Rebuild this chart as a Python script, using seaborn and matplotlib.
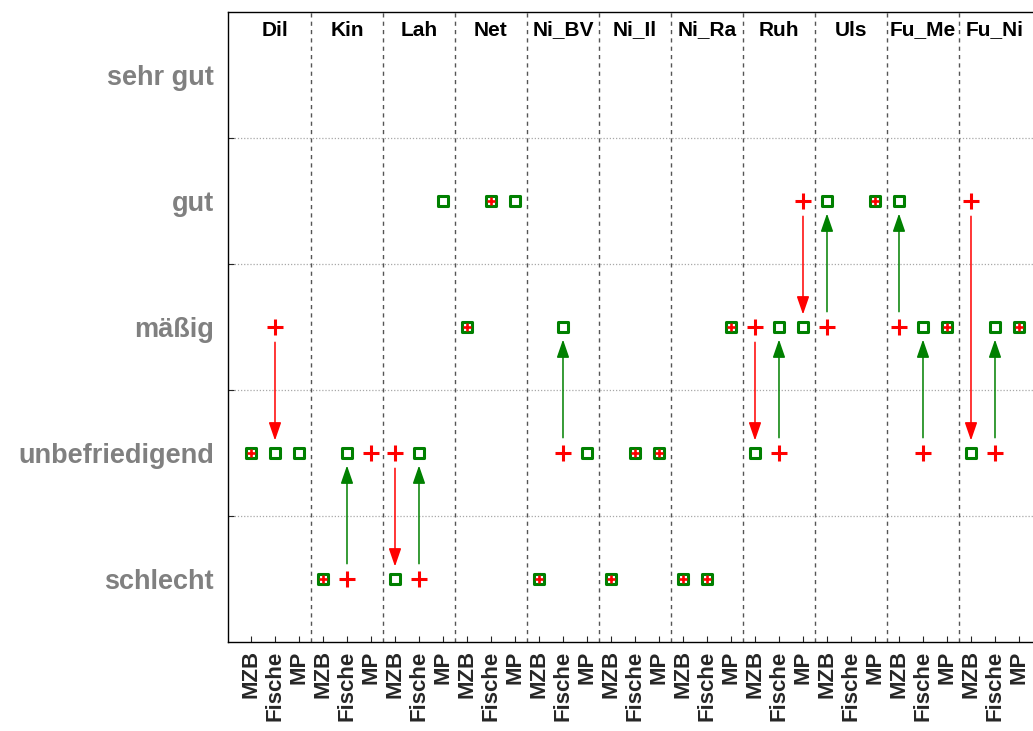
import numpy as np
import pandas as pd
import matplotlib
matplotlib.use("Agg")
import matplotlib.pyplot as plt
import seaborn as sns

groups = ["Dil", "Kin", "Lah", "Net", "Ni_BV", "Ni_Il", "Ni_Ra", "Ruh", "Uls", "Fu_Me", "Fu_Ni"]
components = ["MZB", "Fische", "MP"]
levels = ["schlecht", "unbefriedigend", "mäßig", "gut", "sehr gut"]

nan = np.nan
# previous assessment (red plus), per group: MZB, Fische, MP
old_vals = [2, 3, nan,
            1, 1, 2,
            2, 1, nan,
            3, 4, nan,
            1, 2, nan,
            1, 2, 2,
            1, 1, 3,
            3, 2, 4,
            3, nan, 4,
            3, 2, 3,
            4, 2, 3]
# current assessment (green square)
new_vals = [2, 2, 2,
            1, 2, nan,
            1, 2, 4,
            3, 4, 4,
            1, 3, 2,
            1, 2, 2,
            1, 1, 3,
            2, 3, 3,
            4, nan, 4,
            4, 3, 3,
            2, 3, 3]

sns.set_style("white")
plt.rcParams['font.family'] = ['Liberation Sans', 'DejaVu Sans']

n = len(groups) * len(components)
pos = np.arange(n)
df = pd.DataFrame({
    "pos": pos,
    "group": np.repeat(groups, len(components)),
    "comp": components * len(groups),
    "old": np.array(old_vals, dtype=float),
    "new": np.array(new_vals, dtype=float),
})

W, H = 1033, 731
fig = plt.figure(figsize=(W / 100, H / 100), dpi=100)
unit = 24.0
x_left = -0.958
ax_w_px = (33.0 - x_left) * unit
ax = fig.add_axes([228 / W, (H - 642) / H, ax_w_px / W, (642 - 12) / H])
ax.set_xlim(x_left, 33.0)
ax.set_ylim(0.5, 5.5)

# grid / separators
for yv in np.arange(1.5, 5.0, 1.0):
    ax.axhline(yv, color="#a8a8a8", lw=0.9, ls=(0, (1, 1.5)), zorder=0)
for gi in range(1, len(groups)):
    ax.axvline(gi * 3 - 0.5, color="#555555", lw=1.0, ls=(0, (3, 3)), zorder=0)

# arrows
for _, r in df.iterrows():
    if np.isnan(r.old) or np.isnan(r.new) or r.old == r.new:
        continue
    col = "#008000" if r.new > r.old else "#ff0000"
    ax.annotate("", xy=(r.pos, r.new), xytext=(r.pos, r.old),
                arrowprops=dict(arrowstyle="-|>,head_length=1.1,head_width=0.38",
                                mutation_scale=10, color=col, lw=1.1,
                                shrinkA=11, shrinkB=9), zorder=2)

sq = df.dropna(subset=["new"])
sns.scatterplot(data=sq, x="pos", y="new", marker="s", s=62, facecolor="none",
                edgecolor="#008000", linewidth=2.2, ax=ax, legend=False, zorder=3)
big = df[df["old"].notna() & (df["old"] != df["new"])]
sns.scatterplot(data=big, x="pos", y="old", marker="+", s=125, color="#ff0000",
                linewidth=2.2, ax=ax, legend=False, zorder=4)
small = df[df["old"].notna() & (df["old"] == df["new"])]
sns.scatterplot(data=small, x="pos", y="old", marker="+", s=30, color="#ff0000",
                linewidth=1.9, ax=ax, legend=False, zorder=4)

# group labels
for gi, g in enumerate(groups):
    ax.text(gi * 3 + 1, 5.357, g, ha="center", va="center", fontsize=15,
            fontweight="bold", color="black")

# x ticks
ax.set_xticks(pos)
ax.set_xticklabels(df["comp"], rotation=90, fontsize=16, fontweight="bold")
ax.tick_params(axis="x", direction="in", length=4, width=0.8, pad=6, bottom=True)

# y ticks: marks at boundaries, labels at levels
ax.set_yticks(np.arange(1.5, 5.0, 1.0))
ax.set_yticklabels([])
ax.set_yticks(np.arange(1, 6), minor=True)
ax.set_yticklabels(levels, minor=True, fontsize=19.5, fontweight="bold", color="#808080")
ax.tick_params(axis="y", which="major", direction="in", length=4, width=0.8, left=True)
ax.tick_params(axis="y", which="minor", length=0, pad=10)

ax.set_xlabel("")
ax.set_ylabel("")
for s in ax.spines.values():
    s.set_color("black")
    s.set_linewidth(1.0)

fig.savefig("out.png", dpi=100)
